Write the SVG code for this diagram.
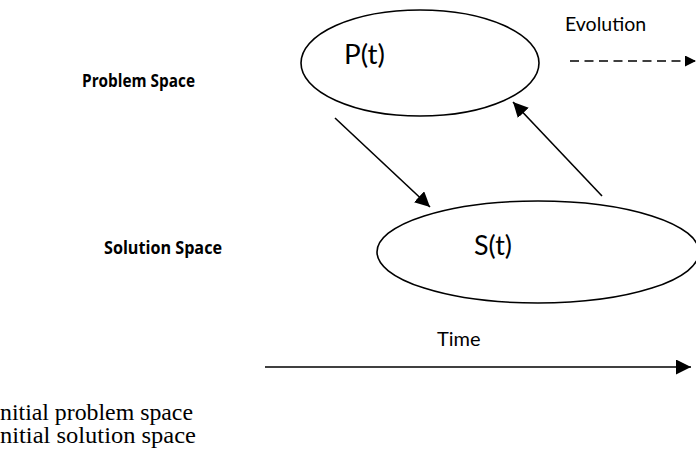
<svg xmlns="http://www.w3.org/2000/svg" width="696" height="463" viewBox="0 0 696 463">
  <defs>
    <marker id="head" viewBox="0 0 10 10" refX="10" refY="5" markerWidth="11" markerHeight="11" markerUnits="userSpaceOnUse" orient="auto">
      <path d="M0,0 L10,5 L0,10 Z" fill="#000"/>
    </marker>
    <marker id="bighead" viewBox="0 0 10 10" refX="10" refY="5" markerWidth="15" markerHeight="15" markerUnits="userSpaceOnUse" orient="auto">
      <path d="M0,0 L10,5 L0,10 Z" fill="#000"/>
    </marker>
    <style>
      .shape { fill: #fff; stroke: #000; stroke-width: 1.6; }
      .line { stroke: #000; stroke-width: 1.6; fill: none; }
      .sans { font-family: Lato, "Open Sans", "Liberation Sans", sans-serif; fill: #000; }
      .bold { font-family: "Open Sans", Lato, "Liberation Sans", sans-serif; font-weight: bold; font-size: 18.5px; }
      .serif { font-family: "Liberation Serif", "Times New Roman", serif; font-size: 23px; fill: #000; }
    </style>
  </defs>

  <rect width="696" height="463" fill="#fff"/>

  <!-- Row labels -->
  <text class="sans bold" x="82" y="87" textLength="113" lengthAdjust="spacingAndGlyphs">Problem Space</text>
  <text class="sans bold" x="104" y="254" textLength="118" lengthAdjust="spacingAndGlyphs">Solution Space</text>

  <!-- Nodes -->
  <g id="problem">
    <ellipse class="shape" cx="420" cy="63" rx="119" ry="53"/>
    <text class="sans" x="344" y="64" font-size="26" textLength="41" lengthAdjust="spacingAndGlyphs">P(t)</text>
  </g>
  <g id="solution">
    <ellipse class="shape" cx="538" cy="252" rx="161" ry="51"/>
    <text class="sans" x="474" y="255" font-size="26" textLength="38" lengthAdjust="spacingAndGlyphs">S(t)</text>
  </g>

  <!-- Connectors -->
  <g id="connectors">
    <line class="line" x1="335" y1="118" x2="430" y2="207" marker-end="url(#bighead)"/>
    <line class="line" x1="602" y1="196" x2="513" y2="102" marker-end="url(#bighead)"/>
    <line class="line" x1="570" y1="61" x2="696" y2="61" stroke-dasharray="9,5.5" marker-end="url(#head)"/>
    <line class="line" x1="265" y1="367" x2="691" y2="367" marker-end="url(#bighead)"/>
  </g>

  <!-- Axis and trend labels -->
  <text class="sans" x="565" y="31" font-size="19.5">Evolution</text>
  <text class="sans" x="437" y="346" font-size="20">Time</text>

  <!-- Legend lines -->
  <text class="serif" x="0" y="420" textLength="193" lengthAdjust="spacingAndGlyphs">nitial problem space</text>
  <text class="serif" x="0" y="443" textLength="196" lengthAdjust="spacingAndGlyphs">nitial solution space</text>
</svg>
